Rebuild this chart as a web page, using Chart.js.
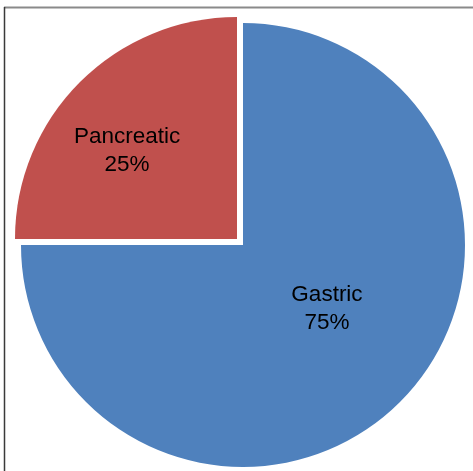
<!DOCTYPE html>
<html>
<head>
<meta charset="utf-8">
<script src="https://cdn.jsdelivr.net/npm/chart.js@4/dist/chart.umd.min.js"></script>
<style>
  html, body { margin: 0; padding: 0; background: #fff; }
  canvas { display: block; }
</style>
</head>
<body>
<canvas id="grafico" width="473" height="471"></canvas>
<script>
// chart values
var categories = ['Gastric', 'Pancreatic'];
var values = [75, 25];
var colors = ['#4F81BD', '#C0504D'];
var explode = [0, 34];

// frame lines like the original figure box
var framePlugin = {
    id: 'frame',
    beforeDraw: function (chart) {
        var ctx = chart.ctx;
        ctx.save();
        ctx.fillStyle = '#fff';
        ctx.fillRect(0, 0, chart.width, chart.height);
        ctx.strokeStyle = '#8a8a8a';
        ctx.lineWidth = 2;
        ctx.beginPath();
        ctx.moveTo(4, 7.5);
        ctx.lineTo(chart.width, 7.5);
        ctx.stroke();
        ctx.strokeStyle = '#3a3a3a';
        ctx.lineWidth = 1.5;
        ctx.beginPath();
        ctx.moveTo(4.5, 7);
        ctx.lineTo(4.5, chart.height);
        ctx.stroke();
        ctx.restore();
    }
};

// category + percent inside each slice
var labelPlugin = {
    id: 'sliceLabels',
    afterDatasetsDraw: function (chart, args, opts) {
        var ctx = chart.ctx;
        var meta = chart.getDatasetMeta(0);
        var total = values.reduce(function (a, b) { return a + b; }, 0);
        ctx.save();
        ctx.font = '22.5px "Liberation Sans", Arial, sans-serif';
        ctx.fillStyle = '#000';
        ctx.textAlign = 'center';
        ctx.textBaseline = 'middle';
        meta.data.forEach(function (arc, i) {
            var p = arc.getProps(['x', 'y', 'startAngle', 'endAngle', 'outerRadius'], true);
            var mid = (p.startAngle + p.endAngle) / 2;
            var shift = (explode[i] || 0) / 4;
            var cx = p.x + Math.cos(mid) * shift;
            var cy = p.y + Math.sin(mid) * shift;
            var a = mid + opts.angleShift[i] * Math.PI / 180;
            var r = p.outerRadius * opts.radius[i];
            var x = cx + Math.cos(a) * r;
            var y = cy + Math.sin(a) * r;
            var pct = Math.round(values[i] / total * 100) + '%';
            ctx.fillText(categories[i], x, y - 14);
            ctx.fillText(pct, x, y + 14);
        });
        ctx.restore();
    }
};

var myChart = new Chart(document.getElementById('grafico'), {
    type: 'pie',
    data: {
        labels: categories,
        datasets: [{
            data: values,
            backgroundColor: colors,
            borderWidth: 0,
            offset: explode
        }]
    },
    options: {
        responsive: false,
        animation: false,
        devicePixelRatio: 1,
        radius: 222,
        layout: { padding: { left: 20, right: 7, top: 26, bottom: 7 } },
        plugins: {
            legend: { display: false },
            tooltip: { enabled: false },
            sliceLabels: { radius: [0.475, 0.636], angleShift: [-7.8, -6.1] }
        }
    },
    plugins: [framePlugin, labelPlugin]
});
</script>
</body>
</html>
